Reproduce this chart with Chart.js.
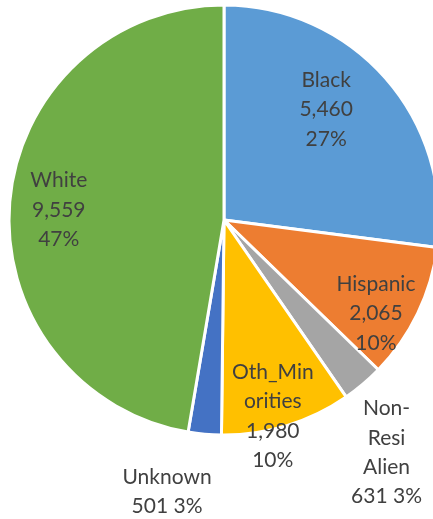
<!DOCTYPE html>
<html>
<head>
<meta charset="utf-8">
<script src="https://cdn.jsdelivr.net/npm/chart.js@4/dist/chart.umd.min.js"></script>
<style>
  html, body { margin: 0; padding: 0; background: #fff; overflow: hidden; }
  #wrap { width: 433px; height: 519px; overflow: hidden; }
</style>
</head>
<body>
<div id="wrap"><canvas id="myChart" width="460" height="519"></canvas></div>
<script>
// dados
let categorias = ['Black', 'Hispanic', 'Non-Resi Alien', 'Oth_Minorities', 'Unknown', 'White']
let valores = [5460, 2065, 631, 1980, 501, 9559]
let valoresTexto = ['5,460', '2,065', '631', '1,980', '501', '9,559']
let percentuais = ['27%', '10%', '3%', '10%', '3%', '47%']
let linhasNome = [['Black'], ['Hispanic'], ['Non-', 'Resi', 'Alien'], ['Oth_Min', 'orities'], ['Unknown'], ['White']]
let juntarValor = [false, false, true, false, true, false]

let cores = ['#5B9BD5', '#ED7D31', '#A5A5A5', '#FFC000', '#4472C4', '#70AD47']
// posicao do rotulo: fator do raio e desvio do angulo (graus)
let rotuloFator = [0.70, 0.83, 1.32, 0.94, 1.29, 0.77]
let rotuloDesvio = [-5.9, 5.9, 5.3, 3, 6.7, -1.3]

let rotulos = {
  id: 'rotulos',
  afterDatasetsDraw(chart) {
    let ctx = chart.ctx
    let meta = chart.getDatasetMeta(0)
    ctx.save()
    ctx.fillStyle = '#404040'
    ctx.font = '21px Lato'
    ctx.textAlign = 'center'
    ctx.textBaseline = 'middle'
    meta.data.forEach((arc, i) => {
      let p = arc.getProps(['x', 'y', 'startAngle', 'endAngle', 'outerRadius'], true)
      let ang = (p.startAngle + p.endAngle) / 2 + rotuloDesvio[i] * Math.PI / 180
      let r = p.outerRadius * rotuloFator[i]
      let cx = p.x + Math.cos(ang) * r
      let cy = p.y + Math.sin(ang) * r
      let linhas = linhasNome[i].slice()
      if (juntarValor[i]) {
        linhas.push(valoresTexto[i] + ' ' + percentuais[i])
      } else {
        linhas.push(valoresTexto[i])
        linhas.push(percentuais[i])
      }
      let lh = 29.3
      let y0 = cy - (linhas.length - 1) * lh / 2
      linhas.forEach((t, k) => ctx.fillText(t, cx, y0 + k * lh))
    })
    ctx.restore()
  }
}

var ctx = document.getElementById('myChart').getContext('2d')
var myChart = new Chart(ctx, {
  type: 'pie',
  data: {
    labels: categorias,
    datasets: [{
      data: valores,
      backgroundColor: cores,
      borderColor: '#ffffff',
      borderWidth: 3,
      hoverOffset: 0
    }]
  },
  options: {
    responsive: false,
    animation: false,
    radius: 215,
    layout: { padding: { left: 10, right: 22, top: 6, bottom: 85 } },
    plugins: {
      legend: { display: false },
      tooltip: { enabled: false }
    }
  },
  plugins: [rotulos]
})
</script>
</body>
</html>
